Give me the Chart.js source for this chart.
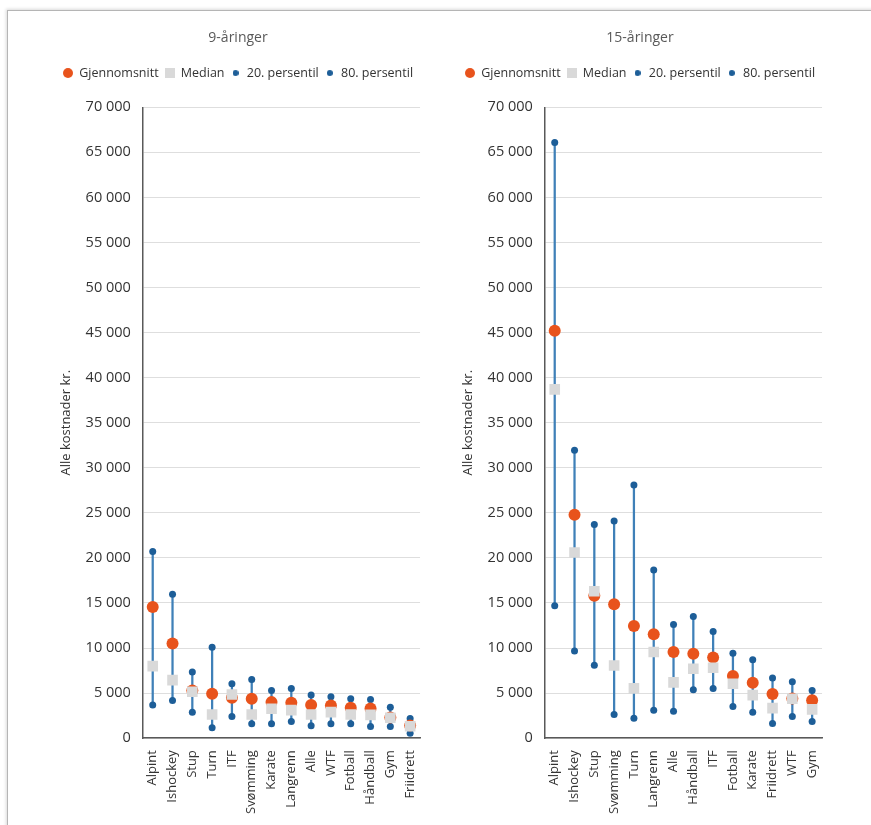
<!DOCTYPE html>
<html>
<head>
<meta charset="utf-8">
<script src="https://cdn.jsdelivr.net/npm/chart.js@4.4.1/dist/chart.umd.min.js"></script>
<style>
  html, body { margin: 0; padding: 0; background: #fff; }
  body { width: 871px; height: 825px; position: relative; overflow: hidden; }
  #frame { position: absolute; left: 7px; top: 10px; width: 900px; height: 900px;
           border: 1px solid #b5b5b5; box-shadow: -1px -1px 3px rgba(0,0,0,0.15); background: #fff; }
  .wrap { position: absolute; top: 20px; width: 380px; height: 805px; }
  #w1 { left: 50px; }
  #w2 { left: 452px; }
</style>
</head>
<body>
<div id="frame"></div>
<div class="wrap" id="w1"><canvas id="c1" width="380" height="805"></canvas></div>
<div class="wrap" id="w2"><canvas id="c2" width="380" height="805"></canvas></div>
<script>
// ---- Data: 9-åringer ----
const cats9 = ['Alpint','Ishockey','Stup','Turn','ITF','Svømming','Karate','Langrenn','Alle','WTF','Fotball','Håndball','Gym','Friidrett'];
const mean9 = [14550, 10500, 5300, 4930, 4480, 4370, 4000, 3930, 3670, 3630, 3370, 3300, 2300, 1400];
const median9 = [8000, 6440, 5150, 2630, 4850, 2630, 3260, 3110, 2630, 2890, 2630, 2590, 2260, 1330];
const p20_9 = [3670, 4190, 2890, 1150, 2410, 1590, 1590, 1850, 1370, 1590, 1590, 1300, 1300, 560];
const p80_9 = [20700, 15960, 7330, 10100, 6040, 6520, 5300, 5520, 4780, 4590, 4370, 4300, 3440, 2190];

// ---- Data: 15-åringer ----
const cats15 = ['Alpint','Ishockey','Stup','Svømming','Turn','Langrenn','Alle','Håndball','ITF','Fotball','Karate','Friidrett','WTF','Gym'];
const mean15 = [45200, 24800, 15800, 14850, 12440, 11520, 9560, 9370, 8960, 6890, 6150, 4890, 4400, 4220];
const median15 = [38700, 20600, 16300, 8070, 5520, 9560, 6190, 7700, 7810, 6040, 4780, 3330, 4370, 3190];
const p20_15 = [14700, 9670, 8100, 2630, 2220, 3110, 3000, 5370, 5520, 3520, 2890, 1630, 2410, 1850];
const p80_15 = [66100, 31960, 23700, 24100, 28100, 18670, 12600, 13500, 11850, 9410, 8700, 6670, 6260, 5300];

const yTicks = { min: 0, max: 70000, step: 5000 };
const legendNames = ['Gjennomsnitt', 'Median', '20. persentil', '80. persentil'];

const ORANGE = '#e8531c', GREY = '#d9d9d9', DOT = '#1d5e98', LINE = '#3f80b8';
const FONT = "'Open Sans', sans-serif";

function marker(kind, color, size) {
  const c = document.createElement('canvas');
  c.width = size; c.height = size;
  const g = c.getContext('2d');
  g.fillStyle = color;
  if (kind === 'rect') { g.fillRect(0, 0, size, size); }
  else { g.beginPath(); g.arc(size/2, size/2, size/2, 0, Math.PI*2); g.fill(); }
  return c;
}
const legendMarks = [marker('circle', ORANGE, 10), marker('rect', GREY, 10), marker('circle', DOT, 6), marker('circle', DOT, 6)];

function fmt(v) { return String(v).replace(/\B(?=(\d{3})+(?!\d))/g, ' '); }

const legendGap = {
  id: 'legendGap',
  beforeInit(chart) {
    const lg = chart.legend;
    if (!lg) return;
    const orig = lg.fit;
    lg.fit = function () { orig.call(this); this.height += 18; };
  }
};

function build(id, title, cats, mean, median, p20, p80) {
  const ranges = cats.map((_, i) => [p20[i], p80[i]]);
  new Chart(document.getElementById(id), {
    type: 'bar',
    plugins: [legendGap],
    data: {
      labels: cats,
      datasets: [
        { type: 'line', label: legendNames[0], data: mean, showLine: false, order: 1,
          pointStyle: 'circle', pointRadius: 6, backgroundColor: ORANGE, borderColor: ORANGE, borderWidth: 0 },
        { type: 'line', label: legendNames[1], data: median, showLine: false, order: 0,
          pointStyle: 'rect', pointRadius: 7.5, backgroundColor: GREY, borderColor: GREY, borderWidth: 0 },
        { type: 'line', label: legendNames[2], data: p20, showLine: false, order: 2,
          pointStyle: 'circle', pointRadius: 3.5, backgroundColor: DOT, borderColor: DOT, borderWidth: 0 },
        { type: 'line', label: legendNames[3], data: p80, showLine: false, order: 2,
          pointStyle: 'circle', pointRadius: 3.5, backgroundColor: DOT, borderColor: DOT, borderWidth: 0 },
        { type: 'bar', label: 'range', data: ranges, order: 5, barThickness: 1.6,
          backgroundColor: LINE, borderWidth: 0 }
      ]
    },
    options: {
      responsive: false,
      animation: false,
      layout: { padding: { left: 0, right: 4, top: 0, bottom: 7 } },
      plugins: {
        tooltip: { enabled: false },
        title: { display: true, text: title, color: '#595959',
                 font: { family: FONT, size: 14, weight: 'normal' }, padding: { top: 10, bottom: 14 } },
        legend: {
          display: true, position: 'top',
          labels: {
            usePointStyle: true, boxWidth: 10, boxHeight: 10, padding: 6,
            color: '#333', font: { family: FONT, size: 12.5 },
            filter: (item) => item.datasetIndex < 4,
            sort: (a, b) => a.datasetIndex - b.datasetIndex,
            generateLabels: (chart) => {
              const items = Chart.defaults.plugins.legend.labels.generateLabels(chart);
              items.forEach(it => { if (it.datasetIndex < 4) it.pointStyle = legendMarks[it.datasetIndex]; });
              return items;
            }
          }
        }
      },
      scales: {
        x: {
          grid: { display: false },
          border: { display: true, color: '#595959', width: 1.5 },
          ticks: { color: '#333', font: { family: FONT, size: 13 }, maxRotation: 90, minRotation: 90, autoSkip: false, padding: 4 }
        },
        y: {
          min: yTicks.min, max: yTicks.max,
          grid: { color: '#dedede', drawTicks: false, lineWidth: 1 },
          border: { display: true, color: '#595959', width: 1.5 },
          ticks: { stepSize: yTicks.step, color: '#333', font: { family: FONT, size: 14.5 }, padding: 12,
                   callback: (v) => fmt(v) },
          title: { display: true, text: 'Alle kostnader kr.', color: '#333', font: { family: FONT, size: 13 }, padding: { top: 8, bottom: 0 } }
        }
      }
    }
  });
}

build('c1', '9-åringer', cats9, mean9, median9, p20_9, p80_9);
build('c2', '15-åringer', cats15, mean15, median15, p20_15, p80_15);
</script>
</body>
</html>
